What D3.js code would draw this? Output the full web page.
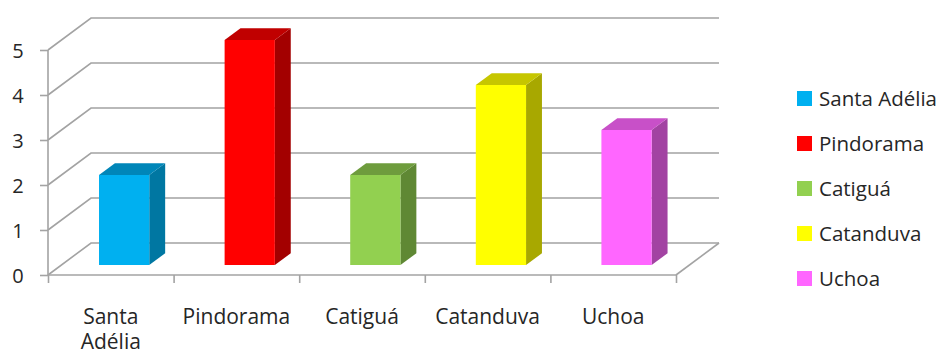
<!DOCTYPE html>
<html>
<head>
<meta charset="utf-8">
<script src="https://cdn.jsdelivr.net/npm/d3@7"></script>
<style>
  html, body { margin: 0; padding: 0; background: #fff; }
  svg { display: block; font-family: "Open Sans", "Noto Sans", sans-serif; }
</style>
</head>
<body>
<svg id="chart" width="945" height="354"></svg>
<script>
// Data
const categories = ["Santa Adélia", "Pindorama", "Catiguá", "Catanduva", "Uchoa"];
const values = [2, 5, 2, 4, 3];
const yTicks = [0, 1, 2, 3, 4, 5];
const frontColors = ["#00B0F0", "#FF0000", "#92D050", "#FFFF00", "#FF66FF"];
const sideColors  = ["#0077A2", "#A30000", "#5F8834", "#A8A800", "#A243A2"];
const topColors   = ["#0086B8", "#C00000", "#6E9C3D", "#C6C600", "#C850C8"];

const svg = d3.select("#chart");

// Plot frame (front plane) and the depth offset of the back wall
const x0 = 48, x1 = 676, yBase = 275, yTop = 50;
const depthX = 43, depthY = -32;
const gridColor = "#a3a3a3";
const textColor = "#262626";

const x = d3.scaleBand().domain(categories).range([x0, x1]).paddingInner(0).paddingOuter(0);
const y = d3.scaleLinear().domain([0, 5]).range([yBase, yTop]);

// projection of (screen x in front plane, value, depth fraction)
const proj = (px, v, z) => [px + z * depthX, y(v) + z * depthY];

// Back wall gridlines and the left wall diagonals
const grid = svg.append("g").attr("stroke", gridColor).attr("stroke-width", 1.6).attr("fill", "none");
yTicks.forEach(t => {
  const a = proj(x0, t, 0), b = proj(x0, t, 1), c = proj(x1, t, 1);
  grid.append("path").attr("d", `M${a[0]},${a[1]}L${b[0]},${b[1]}L${c[0]},${c[1]}`);
});
// floor right edge
{
  const a = proj(x1, 0, 0), b = proj(x1, 0, 1);
  grid.append("line").attr("x1", a[0]).attr("y1", a[1]).attr("x2", b[0]).attr("y2", b[1]);
}

// Bars
const zFront = 0.31, zBack = 0.68, barFrac = 0.4;
const bars = svg.append("g");
categories.forEach((c, i) => {
  const bw = x.bandwidth() * barFrac;
  const cx = x(c) + x.bandwidth() / 2;
  const l = cx - bw / 2, r = cx + bw / 2;
  const v = values[i];
  const fbl = proj(l, 0, zFront), fbr = proj(r, 0, zFront);
  const ftl = proj(l, v, zFront), ftr = proj(r, v, zFront);
  const bbr = proj(r, 0, zBack), btr = proj(r, v, zBack), btl = proj(l, v, zBack);
  const poly = pts => "M" + pts.map(p => p.join(",")).join("L") + "Z";
  bars.append("path").attr("d", poly([fbr, ftr, btr, bbr])).attr("fill", sideColors[i]);
  bars.append("path").attr("d", poly([ftl, ftr, btr, btl])).attr("fill", topColors[i]);
  bars.append("path").attr("d", poly([fbl, ftl, ftr, fbr])).attr("fill", frontColors[i]);
});

// Y axis
const yAxis = svg.append("g")
  .attr("transform", `translate(${x0},0)`)
  .call(d3.axisLeft(y).tickValues(yTicks).tickFormat(d3.format("d")).tickSize(8).tickPadding(0));
yAxis.select(".domain").attr("stroke", gridColor).attr("stroke-width", 1.6).attr("d", `M0,${yBase}V${yTop}`);
yAxis.selectAll(".tick line").attr("stroke", gridColor).attr("stroke-width", 1.6);
yAxis.selectAll(".tick text")
  .attr("x", -30).attr("text-anchor", "middle").attr("dy", "0.35em")
  .attr("fill", textColor).style("font-size", "20px").style("font-family", "'Open Sans', sans-serif");

// X axis: boundary ticks
const xb = d3.scaleLinear().domain([0, categories.length]).range([x0, x1]);
const xAxis = svg.append("g")
  .attr("transform", `translate(0,${yBase})`)
  .call(d3.axisBottom(xb).tickValues(d3.range(categories.length + 1)).tickFormat("").tickSize(8));
xAxis.select(".domain").attr("stroke", gridColor).attr("stroke-width", 1.6).attr("d", `M${x0},0H${x1}`);
xAxis.selectAll(".tick line").attr("stroke", gridColor).attr("stroke-width", 1.6);

// Category labels (wrapped)
const wrapLines = { "Santa Adélia": ["Santa", "Adélia"] };
const labels = svg.append("g").attr("fill", textColor).style("font-size", "21px").attr("text-anchor", "middle");
categories.forEach(c => {
  const lines = wrapLines[c] || [c];
  const t = labels.append("text").attr("x", x(c) + x.bandwidth() / 2).attr("y", yBase + 49);
  lines.forEach((ln, k) => t.append("tspan").attr("x", x(c) + x.bandwidth() / 2).attr("dy", k ? 25 : 0).text(ln));
});

// Legend
const legend = svg.append("g").attr("transform", "translate(797,91)");
categories.forEach((c, i) => {
  const g = legend.append("g").attr("transform", `translate(0,${i * 45})`);
  g.append("rect").attr("width", 15).attr("height", 15).attr("fill", frontColors[i]);
  g.append("text").attr("x", 22).attr("y", 15).attr("fill", textColor).style("font-size", "20.5px").text(c);
});
</script>
</body>
</html>
